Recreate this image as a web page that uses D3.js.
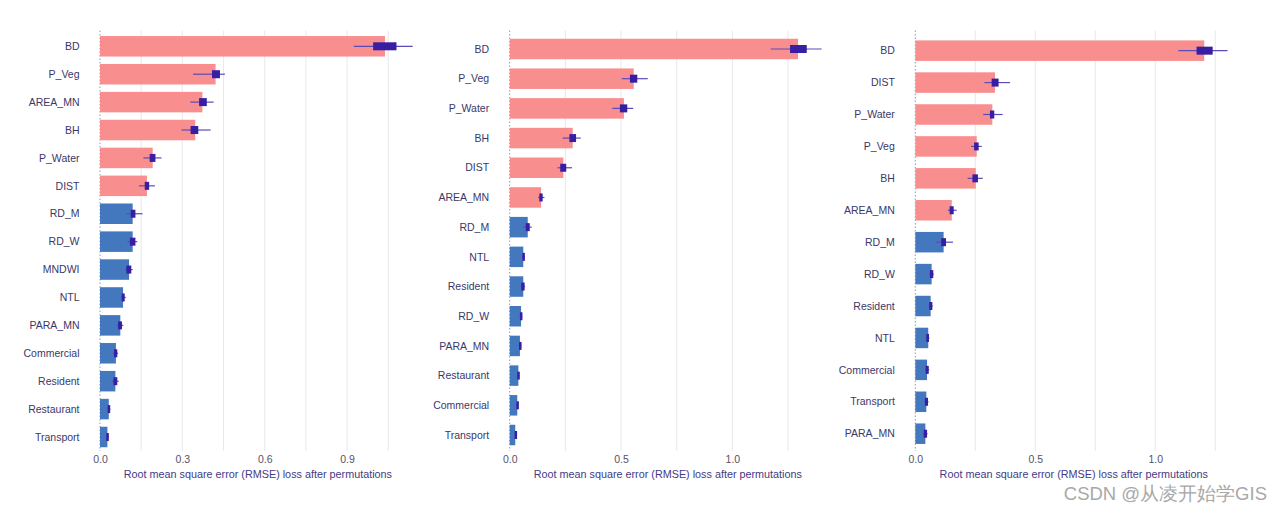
<!DOCTYPE html>
<html>
<head>
<meta charset="utf-8">
<script src="https://cdn.jsdelivr.net/npm/d3@7"></script>
<style>
  html, body { margin: 0; padding: 0; background: #ffffff; }
  svg { display: block; }
  text { font-family: "Liberation Sans", Arial, sans-serif; }
</style>
</head>
<body>
<svg id="chart" width="1283" height="510"></svg>
<script>
// ---------- DATA ----------
const p1Labels = ["BD","P_Veg","AREA_MN","BH","P_Water","DIST","RD_M","RD_W","MNDWI","NTL","PARA_MN","Commercial","Resident","Restaurant","Transport"];
const p1Mean   = [1.038,0.421,0.373,0.347,0.192,0.171,0.119,0.119,0.106,0.084,0.074,0.058,0.056,0.032,0.027];
const p1Q1     = [0.995,0.408,0.361,0.330,0.181,0.163,0.112,0.109,0.096,0.079,0.066,0.051,0.049,0.028,0.023];
const p1Q3     = [1.080,0.437,0.389,0.358,0.202,0.179,0.129,0.129,0.114,0.090,0.080,0.063,0.063,0.036,0.030];
const p1Lo     = [0.925,0.339,0.329,0.297,0.158,0.142,0.097,0.100,0.092,0.076,0.061,0.046,0.044,0.027,0.021];
const p1Hi     = [1.139,0.455,0.414,0.403,0.224,0.200,0.155,0.136,0.119,0.094,0.085,0.066,0.068,0.038,0.032];

const p2Labels = ["BD","P_Veg","P_Water","BH","DIST","AREA_MN","RD_M","NTL","Resident","RD_W","PARA_MN","Restaurant","Commercial","Transport"];
const p2Mean   = [1.295,0.557,0.513,0.283,0.241,0.141,0.081,0.061,0.061,0.051,0.046,0.039,0.034,0.025];
const p2Q1     = [1.259,0.540,0.495,0.268,0.227,0.133,0.072,0.057,0.052,0.046,0.042,0.034,0.030,0.022];
const p2Q3     = [1.334,0.573,0.528,0.298,0.254,0.148,0.090,0.066,0.067,0.055,0.051,0.043,0.037,0.031];
const p2Lo     = [1.172,0.503,0.461,0.238,0.215,0.128,0.060,0.055,0.050,0.044,0.040,0.033,0.029,0.021];
const p2Hi     = [1.401,0.620,0.555,0.319,0.280,0.156,0.099,0.068,0.069,0.057,0.053,0.044,0.038,0.032];

const p3Labels = ["BD","DIST","P_Water","P_Veg","BH","AREA_MN","RD_M","RD_W","Resident","NTL","Commercial","Transport","PARA_MN"];
const p3Mean   = [1.204,0.332,0.321,0.256,0.252,0.152,0.118,0.068,0.064,0.054,0.049,0.046,0.042];
const p3Q1     = [1.172,0.318,0.311,0.245,0.238,0.143,0.108,0.061,0.058,0.046,0.043,0.040,0.035];
const p3Q3     = [1.239,0.347,0.329,0.264,0.261,0.160,0.128,0.075,0.071,0.057,0.056,0.053,0.049];
const p3Lo     = [1.096,0.288,0.283,0.232,0.218,0.136,0.086,0.059,0.056,0.044,0.041,0.038,0.033];
const p3Hi     = [1.301,0.395,0.364,0.277,0.281,0.172,0.157,0.077,0.073,0.059,0.058,0.055,0.051];

const topCounts = [6, 6, 6];
const tickLabels1 = [0.0, 0.3, 0.6, 0.9];
const tickLabels2 = [0.0, 0.5, 1.0];
const tickLabels3 = [0.0, 0.5, 1.0];
const axisTitle = "Root mean square error (RMSE) loss after permutations";
const watermark = "CSDN @从凌开始学GIS";

// ---------- LAYOUT / STYLE ----------
const COL_PINK = "#f98e8e";
const COL_BLUE = "#4378bf";
const COL_BOX = "#371ea3";
const COL_WHISK = "#5b4bb8";
const COL_LABEL = "#3b3868";
const COL_TICK = "#55536a";
const COL_TITLE = "#433a85";
const COL_GRID = "#eaeaee";

const panels = [
  {labels:p1Labels, mean:p1Mean, q1:p1Q1, q3:p1Q3, lo:p1Lo, hi:p1Hi, nTop:topCounts[0],
   x0:100, x1:415.7, xmax:1.15, gridStep:0.15, gridMax:1.06, ticks:tickLabels1, y0:32.35, y1:450.95},
  {labels:p2Labels, mean:p2Mean, q1:p2Q1, q3:p2Q3, lo:p2Lo, hi:p2Hi, nTop:topCounts[1],
   x0:509.7, x1:825.9, xmax:1.42, gridStep:0.25, gridMax:1.26, ticks:tickLabels2, y0:34.15, y1:449.85},
  {labels:p3Labels, mean:p3Mean, q1:p3Q1, q3:p3Q3, lo:p3Lo, hi:p3Hi, nTop:topCounts[2],
   x0:915.3, x1:1232.1, xmax:1.32, gridStep:0.25, gridMax:1.26, ticks:tickLabels3, y0:34.7, y1:449.66}
];

const svg = d3.select("#chart");
const BAR_H = 20.5;
const BOX_H = 8;

panels.forEach(p => {
  const g = svg.append("g");
  const x = d3.scaleLinear().domain([0, p.xmax]).range([p.x0, p.x1]);
  const step = (p.y1 - p.y0) / p.labels.length;
  const pad = 1 - BAR_H / step;
  const y = d3.scaleBand().domain(p.labels).range([p.y0, p.y1])
    .paddingInner(pad).paddingOuter(pad / 2);

  // grid lines
  const grid = d3.range(p.gridStep, p.gridMax, p.gridStep);
  g.selectAll("line.grid").data(grid).join("line")
    .attr("class", "grid")
    .attr("x1", d => x(d)).attr("x2", d => x(d))
    .attr("y1", 30.5).attr("y2", 451)
    .attr("stroke", COL_GRID).attr("stroke-width", 1.1);

  // baseline dotted
  g.append("line")
    .attr("x1", x(0)).attr("x2", x(0))
    .attr("y1", 30.5).attr("y2", 451)
    .attr("stroke", "#7f9fc7").attr("stroke-width", 1)
    .attr("stroke-dasharray", "1.5,2");

  const idx = d3.range(p.labels.length);

  // bars
  g.selectAll("rect.bar").data(idx).join("rect")
    .attr("class", "bar")
    .attr("x", x(0))
    .attr("y", i => y(p.labels[i]))
    .attr("width", i => x(p.mean[i]) - x(0))
    .attr("height", y.bandwidth())
    .attr("fill", i => i < p.nTop ? COL_PINK : COL_BLUE);

  // whiskers
  g.selectAll("line.whisk").data(idx).join("line")
    .attr("class", "whisk")
    .attr("x1", i => x(p.lo[i])).attr("x2", i => x(p.hi[i]))
    .attr("y1", i => y(p.labels[i]) + y.bandwidth() / 2)
    .attr("y2", i => y(p.labels[i]) + y.bandwidth() / 2)
    .attr("stroke", COL_WHISK).attr("stroke-width", 1.2);

  // boxes
  g.selectAll("rect.box").data(idx).join("rect")
    .attr("class", "box")
    .attr("x", i => x(p.q1[i]))
    .attr("y", i => y(p.labels[i]) + y.bandwidth() / 2 - BOX_H / 2)
    .attr("width", i => Math.max(2.5, x(p.q3[i]) - x(p.q1[i])))
    .attr("height", BOX_H)
    .attr("fill", COL_BOX);

  // y labels
  g.selectAll("text.ylab").data(p.labels).join("text")
    .attr("class", "ylab")
    .attr("x", p.x0 - 20.5)
    .attr("y", d => y(d) + y.bandwidth() / 2)
    .attr("dy", "0.35em")
    .attr("text-anchor", "end")
    .attr("font-size", 10.5)
    .attr("fill", COL_LABEL)
    .text(d => d);

  // x axis
  const ax = g.append("g")
    .attr("transform", `translate(0, 448)`)
    .call(d3.axisBottom(x).tickValues(p.ticks).tickFormat(d3.format(".1f")).tickSize(0).tickPadding(8));
  ax.select(".domain").remove();
  ax.selectAll("text")
    .attr("font-size", 10.5)
    .attr("font-family", "Liberation Sans, Arial, sans-serif")
    .attr("fill", COL_TICK);

  // axis title
  g.append("text")
    .attr("x", (p.x0 + p.x1) / 2)
    .attr("y", 477.5)
    .attr("text-anchor", "middle")
    .attr("font-size", 10.8)
    .attr("fill", COL_TITLE)
    .text(axisTitle);
});

// watermark
svg.append("text")
  .attr("x", 1267)
  .attr("y", 499.5)
  .attr("text-anchor", "end")
  .attr("font-size", 18.5)
  .attr("font-family", "'Noto Sans CJK SC', 'Noto Sans', sans-serif")
  .attr("fill", "#a8a8a8")
  .text(watermark);
</script>
</body>
</html>
